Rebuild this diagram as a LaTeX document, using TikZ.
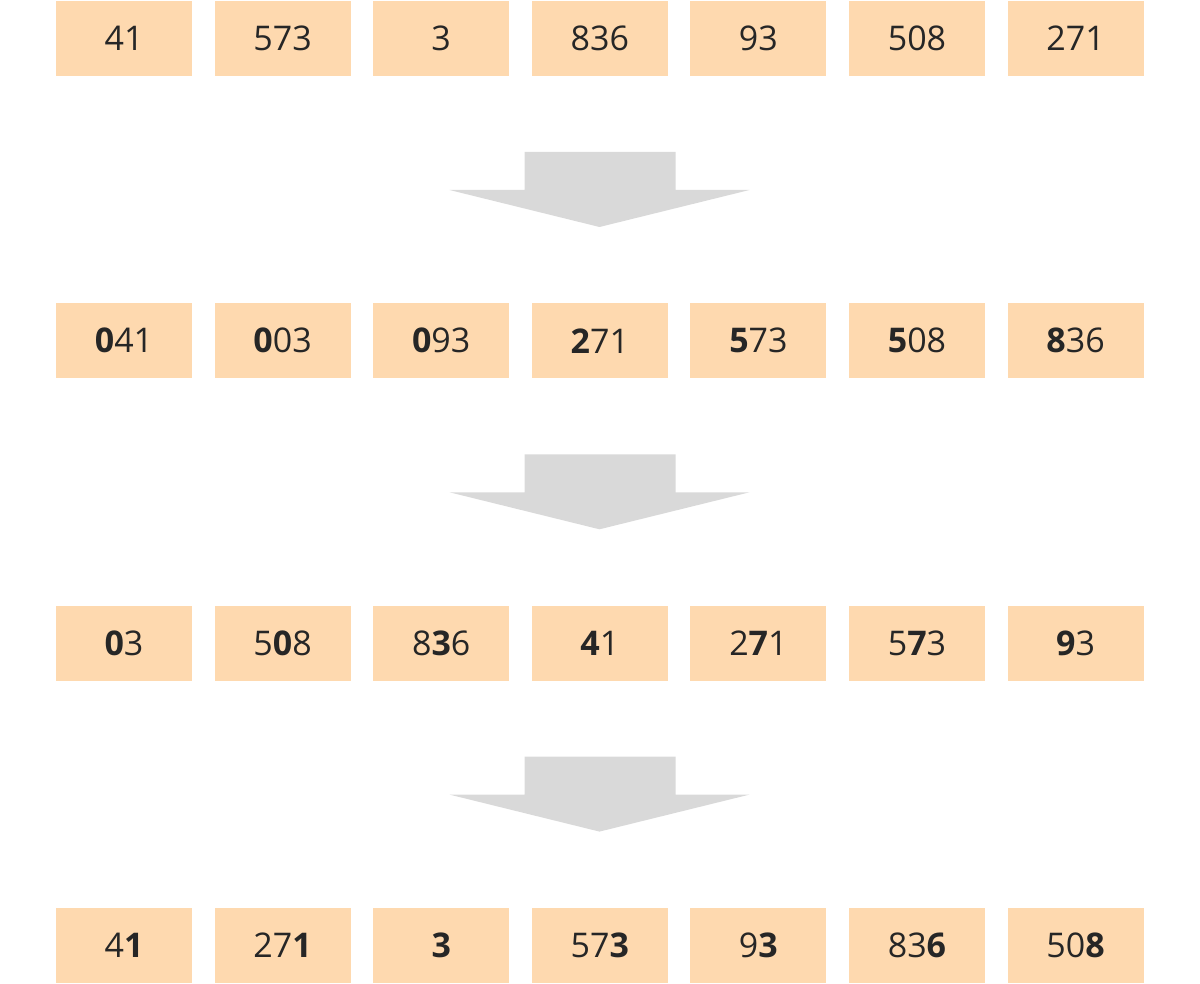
\documentclass[tikz,border=0pt]{standalone}
\usepackage{fontspec}
\setmainfont{Open Sans}
\definecolor{peach}{HTML}{FED9AF}
\definecolor{arrowgray}{HTML}{D9D9D9}
\definecolor{txt}{HTML}{262626}
\tikzset{
  cell/.style={fill=peach, draw=none, minimum width=136pt, minimum height=75pt, inner sep=0pt, text=txt, font=\fontsize{34}{40}\selectfont},
  bigarrow/.style={fill=arrowgray, draw=none}
}
\begin{document}
\begin{tikzpicture}[x=1pt,y=-1pt]
\useasboundingbox (0,0) rectangle (1200,984);
% rows
\def\rA{38.5}
\def\rB{340.8}
\def\rC{643.1}
\def\rD{945.4}
\foreach \t [count=\i from 0] in {41,573,3,836,93,508,271}
  \node[cell] (a\i) at (124+158.6*\i,\rA) {\t};
\foreach \t [count=\i from 0] in {\textbf{0}41,\textbf{0}03,\textbf{0}93,\textbf{2}71,\textbf{5}73,\textbf{5}08,\textbf{8}36}
  \node[cell] (b\i) at (124+158.6*\i,\rB) {\t};
\foreach \t [count=\i from 0] in {\textbf{0}3,5\textbf{0}8,8\textbf{3}6,\textbf{4}1,2\textbf{7}1,5\textbf{7}3,\textbf{9}3}
  \node[cell] (c\i) at (124+158.6*\i,\rC) {\t};
\foreach \t [count=\i from 0] in {4\textbf{1},27\textbf{1},\textbf{3},57\textbf{3},9\textbf{3},83\textbf{6},50\textbf{8}}
  \node[cell] (d\i) at (124+158.6*\i,\rD) {\t};
% arrows
\foreach \y in {0,302.3,604.6}
  \fill[bigarrow] (524.5,152+\y) -- (675.5,152+\y) -- (675.5,190+\y) -- (749.5,190+\y)
    -- (599.5,227+\y) -- (449.5,190+\y) -- (524.5,190+\y) -- cycle;
\end{tikzpicture}
\end{document}
